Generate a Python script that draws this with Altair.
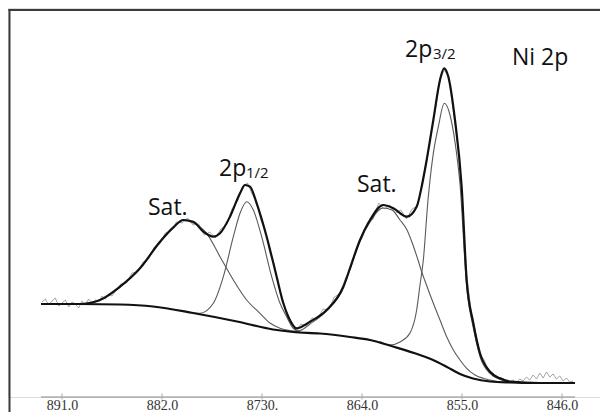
import altair as alt
import pandas as pd

# ---------------- data (binding energy in eV, intensity in a.u.) ----------------
bg_ev = [892.89, 889.38, 885.78, 882.81, 879.21, 875.25, 872.01, 870.21, 867.78, 865.08,
         863.28, 861.21, 858.78, 857.61, 856.35, 855.18, 854.01, 852.48, 850.68, 847.98, 844.83]
bg_int = [116, 116, 115.5, 113.5, 107, 98.5, 90.5, 88, 86.5, 83,
          80, 73.5, 65, 60, 53, 46, 41.5, 38.5, 37.5, 37, 37]

env_ev = [892.89, 889.38, 887.58, 885.78, 883.98, 882.18, 880.98, 880.08, 879.18, 878.28,
          877.38, 876.78, 875.88, 874.98, 874.53, 874.08, 873.48, 872.58, 871.68, 871.08,
          870.63, 869.88, 868.68, 867.18, 865.68, 864.93, 864.18, 863.28, 862.08, 861.18,
          859.98, 859.08, 858.63, 858.18, 857.58, 856.98, 856.62, 856.23, 855.63, 855.03,
          854.58, 853.98, 853.38, 852.48, 851.58, 850.68, 847.98, 844.83]
env_int = [116, 116, 120, 133.3, 151.7, 178.3, 192.7, 200, 198.3, 188.3,
           183.3, 186.7, 203.3, 226.7, 235, 233.3, 216.7, 183.3, 143.3, 116.7,
           103.3, 91.7, 98.3, 110, 133.3, 156.7, 180, 200, 215, 211.7,
           203.3, 213.3, 233.3, 260, 300, 340, 351.7, 343.3, 300, 233.3,
           140, 96.7, 66.7, 48.3, 41.7, 38.5, 37, 37]

sat1_ev = [889.38, 887.58, 885.78, 883.98, 882.18, 880.98, 880.08, 879.18, 877.98, 876.78,
           875.58, 874.38, 873.18, 872.28, 871.38, 870.48, 869.58]
sat1_int = [116, 120, 133, 151.5, 178, 192.5, 199.5, 197, 186.7, 163.3,
            140, 120, 106.7, 97, 91.7, 89.3, 88.3]

p12_ev = [879.21, 878.58, 877.38, 876.48, 875.58, 874.98, 874.38, 873.78, 873.03, 872.13,
          871.38, 870.78, 870.21, 869.58]
p12_int = [107, 106.7, 116.7, 143.3, 183.3, 206.7, 218.3, 210, 183.3, 143.3,
           116.7, 103.3, 92, 88.3]

sat2_ev = [870.48, 869.58, 868.68, 867.18, 865.68, 864.93, 864.18, 863.28, 862.11, 861.30,
           860.58, 859.95, 859.41, 858.96, 858.63, 858.33, 857.58, 856.98, 856.38, 855.78,
           855.18, 854.58, 853.83, 853.08, 852.03, 850.68]
sat2_int = [88.6, 89.5, 96, 109, 132, 156, 179, 198, 212, 210,
            200, 190, 175, 160, 148.3, 139, 116.7, 100, 83.3, 70,
            60, 51.7, 45, 41.7, 39, 37.5]

p32_ev = [862.38, 861.48, 860.58, 859.68, 859.08, 858.78, 858.48, 858.06, 857.58, 857.13,
          856.59, 856.08, 855.63, 855.18, 854.58, 853.98, 853.38, 852.48, 851.58, 850.68, 849.33]
p32_int = [78.6, 75, 78, 87, 110, 135, 160, 220, 266.7, 293.3,
           316.7, 305, 278, 236, 133, 92, 63.5, 46.5, 40.5, 38, 37.2]

raw_ev = [892.8, 892.5, 892.2, 891.9, 891.6, 891.3, 891.0, 890.7, 890.4, 890.1,
          889.8, 889.5, 889.2, 888.9, 888.6, 888.3, 888.0, 887.7, 887.4, 887.1,
          886.8, 886.5, 886.2,
          885.7, 885.2, 884.7, 884.2, 883.7, 883.2, 882.7, 882.2, 881.7, 881.2,
          880.7, 880.2, 879.7, 879.2, 878.7, 878.2, 877.7, 877.2, 876.7, 876.2,
          875.7, 875.2, 874.7, 874.3, 873.9, 873.5, 873.1, 872.7, 872.3, 871.9,
          871.5, 871.1, 870.7, 870.3, 869.9, 869.5, 869.0, 868.5, 868.0, 867.5,
          867.0, 866.5, 866.0, 865.5, 865.0, 864.5, 864.0, 863.5, 863.0, 862.5,
          862.0, 861.5, 861.0, 860.5, 860.0, 859.5, 859.0, 858.6, 858.2, 857.8,
          857.4, 857.0, 856.6, 856.2, 855.8, 855.4, 855.0, 854.6, 854.2, 853.8,
          853.4, 853.0, 852.6, 852.2, 851.8, 851.4,
          851.0, 850.7, 850.4, 850.1, 849.8, 849.5, 849.2, 848.9, 848.6, 848.3,
          848.0, 847.7, 847.4, 847.1, 846.8, 846.5, 846.2, 845.9, 845.6, 845.3, 845.0]
raw_int = [118, 121, 115, 119, 122, 114, 117, 120, 113, 118,
           116, 112, 119, 115, 121, 117, 120, 118, 124, 121,
           126, 124, 129,
           136, 137, 147, 148, 158, 161, 173, 176, 187, 189,
           198, 197, 202, 195, 196, 185, 188, 182, 191, 195,
           211, 219, 234, 237, 226, 219, 200, 190, 168, 155,
           133, 119, 103, 95, 89, 96, 94, 102, 101, 111,
           110, 123, 126, 141, 152, 172, 182, 198, 201, 217,
           211, 215, 207, 210, 201, 211, 214, 237, 256, 287,
           310, 340, 350, 343, 310, 276, 225, 146, 111, 89,
           66, 60, 49, 47, 42, 42,
           39, 38, 40, 37, 41, 39, 43, 40, 45, 41,
           47, 42, 48, 43, 46, 41, 44, 39, 42, 38, 39]

tick_values = [891, 882, 873, 864, 855, 846]
axis_line_ev = [892.89]
axis_line_ev2 = [844.83]

label_text = ["Sat.", "2p", "1/2", "Sat.", "2p", "3/2", "Ni 2p"]
label_ev = [883.26, 876.87, 874.44, 864.45, 860.13, 857.61, 850.5]
label_int = [205, 244, 242, 228.5, 363, 361, 355]
label_size = [23, 23, 15, 23, 23, 15, 23]

# ---------------- chart ----------------
W, H = 592, 389
xscale = alt.Scale(domain=[842.58, 895.86], reverse=True, nice=False, zero=False)
yscale = alt.Scale(domain=[23, 412], nice=False, zero=False)
xaxis = alt.Axis(values=tick_values,
                 labelExpr="datum.value == 873 ? '8730.' : format(datum.value, '.1f')",
                 domain=False, ticks=False, grid=False, title=None,
                 labelFont="Liberation Serif, Times New Roman, serif", labelFontSize=14,
                 labelColor="#333333", labelPadding=1)

X = alt.X("ev:Q", scale=xscale, axis=xaxis)
Y = alt.Y("i:Q", scale=yscale, axis=None)


def df(ev, it):
    return pd.DataFrame({"ev": ev, "i": it})


raw = alt.Chart(df(raw_ev, raw_int)).mark_line(color="#9a9a9a", strokeWidth=0.9).encode(x=X, y=Y)

comp_style = dict(color="#5a5a5a", strokeWidth=1.1, interpolate="monotone")
sat1 = alt.Chart(df(sat1_ev, sat1_int)).mark_line(**comp_style).encode(x=X, y=Y)
p12 = alt.Chart(df(p12_ev, p12_int)).mark_line(**comp_style).encode(x=X, y=Y)
sat2 = alt.Chart(df(sat2_ev, sat2_int)).mark_line(**comp_style).encode(x=X, y=Y)
p32 = alt.Chart(df(p32_ev, p32_int)).mark_line(**comp_style).encode(x=X, y=Y)

bold = dict(color="#111111", strokeWidth=2.2, interpolate="monotone")
bg = alt.Chart(df(bg_ev, bg_int)).mark_line(**bold).encode(x=X, y=Y)
env = alt.Chart(df(env_ev, env_int)).mark_line(**bold).encode(x=X, y=Y)

axis_line = alt.Chart(pd.DataFrame({"ev": axis_line_ev, "ev2": axis_line_ev2, "i": [23]})).mark_rule(
    color="#8a8a8a", strokeWidth=1).encode(x=X, x2="ev2:Q", y=Y)
ticks = alt.Chart(pd.DataFrame({"ev": tick_values, "i": [20.5] * 6, "i2": [26.5] * 6})).mark_rule(
    color="#aaaaaa", strokeWidth=1).encode(x=X, y=Y, y2="i2:Q")

labels = alt.Chart(pd.DataFrame({"ev": label_ev, "i": label_int, "t": label_text, "fs": label_size})).mark_text(
    align="left", baseline="alphabetic", font="Open Sans", color="#111111").encode(
    x=X, y=Y, text="t:N", size=alt.Size("fs:Q", scale=None, legend=None))

frame_left = alt.Chart().mark_rule(color="#3a3a3a", strokeWidth=2).encode(
    x=alt.value(1.5), y=alt.value(1), y2=alt.value(404))
frame_top = alt.Chart().mark_rule(color="#3a3a3a", strokeWidth=2).encode(
    x=alt.value(0.5), x2=alt.value(W), y=alt.value(2))

chart = alt.layer(raw, sat1, p12, sat2, p32, bg, env, axis_line, ticks, labels,
                  frame_left, frame_top).properties(
    width=W, height=H, autosize="none",
    padding={"left": 0, "top": 0, "right": 0, "bottom": 15},
).configure_view(stroke=None).configure(background="white")

chart.save("out.html", embed_options={"renderer": "svg", "actions": False})
